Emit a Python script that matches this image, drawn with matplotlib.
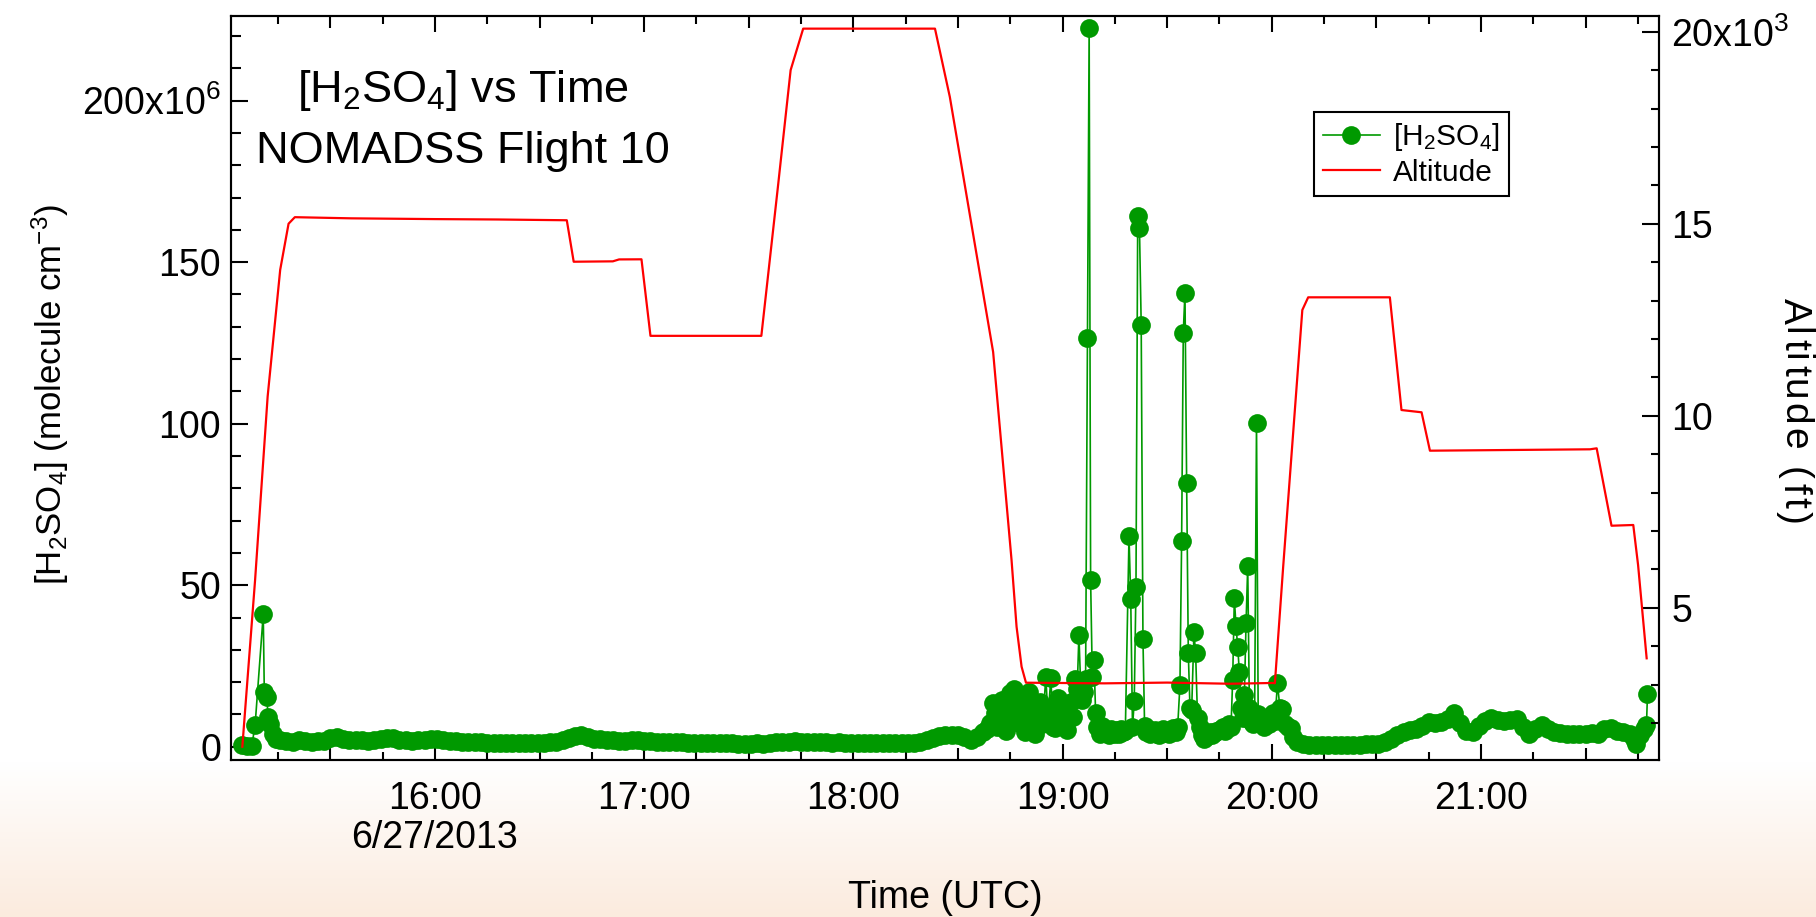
import numpy as np
import matplotlib
matplotlib.use('Agg')
import matplotlib.pyplot as plt
from matplotlib.ticker import MultipleLocator, FixedLocator
from matplotlib.font_manager import FontProperties, findfont, get_font
import matplotlib.transforms as mtransforms

plt.rcParams['font.family'] = ['Liberation Sans', 'DejaVu Sans']
plt.rcParams['mathtext.fontset'] = 'custom'
plt.rcParams['mathtext.rm'] = 'Liberation Sans'
plt.rcParams['mathtext.it'] = 'Liberation Sans:italic'
plt.rcParams['mathtext.bf'] = 'Liberation Sans:bold'
plt.rcParams['mathtext.default'] = 'regular'

# H2SO4 concentration, time in decimal hours UTC, concentration in 1e6 molecule cm^-3
time_h2so4 = [
    15.079, 15.100, 15.124, 15.140, 15.179, 15.184, 15.195, 15.203, 15.210, 15.225,
    15.240, 15.260,
    15.29, 15.32, 15.35, 15.38, 15.41, 15.44, 15.47, 15.50, 15.53, 15.56,
    15.59, 15.62, 15.65, 15.68, 15.71, 15.74, 15.77, 15.80, 15.83, 15.86,
    15.89, 15.92, 15.95, 15.98, 16.01, 16.04, 16.07, 16.10, 16.13, 16.16,
    16.19, 16.22, 16.25, 16.28, 16.31, 16.34, 16.37, 16.40, 16.43, 16.46,
    16.49, 16.52, 16.55, 16.58, 16.61, 16.64, 16.67, 16.70, 16.73, 16.76,
    16.79, 16.82, 16.85, 16.88, 16.91, 16.94, 16.97, 17.00, 17.03, 17.06,
    17.09, 17.12, 17.15, 17.18, 17.21, 17.24, 17.27, 17.30, 17.33, 17.36,
    17.39, 17.42, 17.45, 17.48, 17.51, 17.54, 17.57, 17.60, 17.63, 17.66,
    17.69, 17.72, 17.75, 17.78, 17.81, 17.84, 17.87, 17.90, 17.93, 17.96,
    17.99, 18.02, 18.05, 18.08, 18.11, 18.14, 18.17, 18.20, 18.23, 18.26,
    18.29, 18.32, 18.35, 18.38, 18.41, 18.44, 18.47, 18.50, 18.53, 18.56,
    18.59,
    18.62, 18.64, 18.655, 18.668, 18.676, 18.685, 18.70, 18.71, 18.72, 18.73,
    18.74, 18.75, 18.76, 18.77, 18.78, 18.79, 18.80, 18.81, 18.82, 18.83,
    18.84, 18.85, 18.86, 18.87, 18.88, 18.89, 18.90, 18.91, 18.92, 18.93,
    18.944, 18.955, 18.963, 18.97, 18.98, 18.99, 19.00, 19.01, 19.02, 19.03,
    19.04, 19.05, 19.059, 19.07, 19.078, 19.086, 19.094, 19.102, 19.110, 19.119,
    19.127, 19.134, 19.142, 19.150, 19.158, 19.166,
    19.18, 19.19, 19.20, 19.21, 19.22, 19.23, 19.24, 19.25, 19.26, 19.27,
    19.28, 19.29, 19.30, 19.3175, 19.3258, 19.3342, 19.3425, 19.3508, 19.3592, 19.3675,
    19.3758, 19.3842, 19.392, 19.40, 19.41, 19.42, 19.43, 19.44, 19.45, 19.46,
    19.47, 19.48, 19.49, 19.50, 19.51, 19.52, 19.53, 19.54, 19.55, 19.561,
    19.569, 19.577, 19.585, 19.593, 19.601, 19.609, 19.617, 19.628, 19.636, 19.645,
    19.655, 19.665, 19.675, 19.685, 19.695, 19.705, 19.715, 19.725, 19.735, 19.745,
    19.755, 19.765, 19.775, 19.785, 19.795, 19.805, 19.813, 19.821, 19.829, 19.837,
    19.845, 19.853, 19.861, 19.869, 19.877, 19.885, 19.893, 19.901, 19.909, 19.918,
    19.927, 19.935, 19.945, 19.955, 19.965, 19.975, 19.985, 19.995, 20.005, 20.015,
    20.027, 20.039, 20.051, 20.065, 20.078, 20.091, 20.10,
    20.12, 20.15, 20.18, 20.21, 20.24, 20.27, 20.30, 20.33, 20.36, 20.39,
    20.42, 20.45, 20.48, 20.51, 20.54, 20.57, 20.60, 20.63, 20.66, 20.69,
    20.72, 20.75, 20.78, 20.81, 20.84, 20.87, 20.90, 20.93, 20.96, 20.99,
    21.02, 21.05, 21.08, 21.11, 21.14, 21.17, 21.20, 21.23, 21.26, 21.29,
    21.32, 21.35, 21.38, 21.41, 21.44, 21.47, 21.50, 21.53, 21.56, 21.59,
    21.62, 21.65, 21.68, 21.71, 21.73, 21.743, 21.76, 21.78, 21.791, 21.796,
]
conc_h2so4 = [
    0.5, 0.3, 0.2, 6.7, 41.0, 17.0, 15.5, 9.3, 7.0, 4.0,
    2.5, 2.0,
    1.8, 1.5, 2.0, 1.8, 1.6, 1.7, 1.9, 2.6, 3.0, 2.4,
    2.0, 2.2, 2.1, 1.9, 2.0, 2.3, 2.8, 2.6, 2.2, 2.0,
    1.9, 2.0, 2.1, 2.4, 2.3, 2.0, 1.8, 1.7, 1.6, 1.5,
    1.4, 1.4, 1.3, 1.2, 1.2, 1.3, 1.2, 1.2, 1.3, 1.2,
    1.3, 1.2, 1.4, 1.6, 2.2, 2.8, 3.2, 3.6, 3.0, 2.4,
    2.3, 2.1, 2.0, 1.8, 1.9, 2.1, 2.0, 1.8, 1.7, 1.6,
    1.5, 1.4, 1.5, 1.4, 1.3, 1.2, 1.2, 1.2, 1.3, 1.1,
    1.1, 1.1, 1.0, 1.0, 1.0, 1.1, 1.0, 1.2, 1.4, 1.6,
    1.5, 1.7, 1.6, 1.5, 1.4, 1.5, 1.4, 1.3, 1.4, 1.3,
    1.3, 1.2, 1.3, 1.2, 1.2, 1.1, 1.2, 1.1, 1.2, 1.1,
    1.2, 1.5, 2.0, 2.6, 3.2, 3.5, 3.7, 3.6, 3.0, 2.0,
    3.0,
    4.6, 5.5, 7.2, 13.5, 10.3, 6.0, 8.0, 14.5, 9.0, 5.0,
    12.0, 16.5, 9.5, 18.0, 12.0, 7.5, 15.5, 9.0, 4.5, 11.0,
    17.0, 8.0, 13.5, 4.0, 8.0, 14.0, 7.0, 12.0, 21.7, 9.0,
    21.2, 6.0, 5.7, 10.0, 15.0, 8.0, 12.0, 6.0, 5.2, 9.0,
    14.0, 9.3, 21.0, 18.0, 34.6, 19.8, 14.5, 17.0, 21.0, 126.6,
    222.4, 51.6, 21.7, 27.0, 10.3, 6.0,
    4.0, 6.5, 5.0, 4.5, 3.5, 5.5, 4.8, 3.8, 5.2, 4.0,
    5.5, 4.5, 5.0, 65.2, 45.7, 6.0, 14.1, 49.3, 164.3, 160.5,
    130.6, 33.3, 6.5, 4.5, 5.5, 3.8, 4.5, 5.2, 4.0, 3.5,
    4.8, 5.5, 4.2, 4.6, 3.9, 5.0, 5.8, 4.5, 6.0, 19.1,
    63.7, 128.2, 140.6, 81.7, 28.9, 12.0, 11.4, 35.4, 28.9, 9.0,
    6.0, 3.5, 2.5, 3.0, 3.8, 4.5, 3.5, 4.2, 5.0, 4.8,
    5.5, 6.0, 5.0, 6.5, 7.0, 6.0, 20.6, 45.9, 37.4, 31.0,
    23.2, 12.0, 9.0, 16.0, 38.2, 55.9, 12.0, 8.0, 7.0, 9.5,
    100.3, 10.0, 7.5, 8.5, 6.0, 9.0, 7.0, 8.0, 10.5, 8.0,
    19.6, 12.0, 11.6, 7.0, 6.0, 5.7, 3.0,
    1.5, 0.8, 0.5, 0.4, 0.4, 0.5, 0.5, 0.5, 0.5, 0.6,
    0.6, 0.7, 0.8, 1.0, 1.5, 2.5, 3.5, 4.5, 5.2, 5.5,
    6.5, 7.7, 7.5, 7.8, 8.5, 10.3, 7.5, 5.0, 4.5, 6.5,
    8.0, 8.8, 8.2, 8.0, 8.3, 8.6, 6.0, 4.1, 5.5, 6.7,
    5.5, 4.5, 4.2, 4.0, 3.9, 4.0, 3.8, 4.2, 4.0, 5.5,
    5.7, 5.0, 4.5, 4.0, 2.5, 1.0, 3.5, 5.5, 6.7, 16.2,
]

# aircraft altitude (ft), vertices of the flight track
time_alt = [
    15.079, 15.14, 15.20, 15.26, 15.30, 15.33, 15.6, 16.0, 16.3, 16.63,
    16.663, 16.85, 16.88, 16.987, 17.03, 17.56, 17.64, 17.70, 17.76, 18.39,
    18.461, 18.668, 18.756, 18.78, 18.804, 18.825, 19.2, 19.5, 19.8, 20.007,
    20.0148, 20.0545, 20.146, 20.174, 20.5645, 20.620, 20.716, 20.756, 21.521, 21.553,
    21.624, 21.728, 21.751, 21.792,
]
altitude_ft = [
    1380, 5722, 10500, 13800, 15000, 15170, 15140, 15120, 15110, 15090,
    14010, 14020, 14070, 14073, 12080, 12080, 16000, 19000, 20080, 20080,
    18302, 11659, 6242, 4505, 3464, 3047, 3030, 3050, 3020, 3040,
    3031, 6068, 12753, 13083, 13083, 10148, 10089, 9089, 9125, 9151,
    7135, 7154, 6112, 3682,
]

hour_ticks = [16, 17, 18, 19, 20, 21]
hour_labels = ['16:00', '17:00', '18:00', '19:00', '20:00', '21:00']
conc_ticks = [0, 50, 100, 150, 200]
conc_labels = ['0', '50', '100', '150', '200x10$^{6}$']
alt_ticks = [5000, 10000, 15000, 20000]
alt_labels = ['5', '10', '15', '20x10$^{3}$']

GREEN = '#009900'
RED = '#ff0000'
W, H = 1816, 917
TICK_FS = 27


def spaced_vertical_label(fig, text, x_px, top_px, length_px, size):
    """Top-to-bottom label with its letters spread over length_px."""
    prop = FontProperties(family='Liberation Sans', size=size)
    font = get_font(findfont(prop))
    font.set_size(size, fig.dpi)
    adv = [font.load_char(ord(c)).linearHoriAdvance / 65536 for c in text]
    gap = (length_px - sum(adv)) / (len(text) - 1)
    y = top_px
    for c, a in zip(text, adv):
        fig.text(x_px / W, 1 - y / H, c, rotation=270, rotation_mode='anchor',
                 ha='left', va='baseline', fontproperties=prop)
        y += a + gap


fig = plt.figure(figsize=(W / 100, H / 100), dpi=100)

# pale peach band fading in at the bottom of the page
bg = fig.add_axes([0, 0, 1, 155 / H], zorder=-10)
shade = np.linspace(0, 1, 256)[:, None, None]
top_rgb = np.array([1.0, 1.0, 1.0])
bot_rgb = np.array([251, 235, 222]) / 255
bg.imshow(top_rgb + (bot_rgb - top_rgb) * shade, aspect='auto',
          extent=[0, 1, 0, 1], interpolation='bilinear')
bg.axis('off')

ax = fig.add_axes([230.7 / W, 1 - 760 / H, (1659 - 230.7) / W, (760 - 15.7) / H])
ax2 = ax.twinx()

line_c, = ax.plot(time_h2so4, conc_h2so4, '-o', color=GREEN, lw=1.2, ms=13.5,
                  mew=0, label='[H$_2$SO$_4$]')
line_a, = ax2.plot(time_alt, altitude_ft, color=RED, lw=1.6, label='Altitude')

ax.set_xlim(15.0234, 21.851)
ax.set_ylim(-4.1, 226.3)
ax2.set_ylim(1034, 20417)

ax.set_xticks(hour_ticks)
ax.set_xticklabels(hour_labels)
ax.xaxis.set_minor_locator(FixedLocator(np.arange(15.25, 22, 0.5)))
ax.set_yticks(conc_ticks)
ax.set_yticklabels(conc_labels)
ax.yaxis.set_minor_locator(MultipleLocator(10))
ax2.set_yticks(alt_ticks)
ax2.set_yticklabels(alt_labels)
ax2.yaxis.set_minor_locator(MultipleLocator(1000))

ax.tick_params(axis='x', which='both', direction='in', top=True, bottom=True,
               width=1.5, labelsize=TICK_FS, pad=15)
ax.tick_params(axis='x', which='major', length=11.5)
ax.tick_params(axis='x', which='minor', length=6)
ax.tick_params(axis='y', which='both', direction='in', width=1.5,
               labelsize=TICK_FS, pad=7)
ax.tick_params(axis='y', which='major', length=12)
ax.tick_params(axis='y', which='minor', length=7.5)
ax2.tick_params(axis='y', which='both', direction='in', width=1.5,
                labelsize=TICK_FS, pad=9)
ax2.tick_params(axis='y', which='major', length=12)
ax2.tick_params(axis='y', which='minor', length=6)

# half-hour ticks are a bit longer than the quarter-hour ones
for side in ('bottom', 'top'):
    sec = ax.secondary_xaxis(side)
    sec.set_xticks(np.arange(15.5, 22, 1.0))
    sec.tick_params(direction='in', length=8.6, width=1.5,
                    labelbottom=False, labeltop=False)
    sec.spines[side].set_visible(False)

for a in (ax, ax2):
    for sp in a.spines.values():
        sp.set_linewidth(1.5)

date_tr = mtransforms.blended_transform_factory(ax.transData, fig.transFigure)
ax.text(16, 1 - 838 / H, '6/27/2013', transform=date_tr, ha='center',
        va='center', fontsize=TICK_FS)

fig.text(945 / W, 1 - 898 / H, 'Time (UTC)', ha='center', va='center', fontsize=27)
fig.text(50 / W, 1 - 394 / H, '[H$_2$SO$_4$] (molecule cm$^{-3}$)', rotation=90,
         ha='center', va='center', fontsize=25)
spaced_vertical_label(fig, 'Altitude (ft)', 1784, 298, 226, 28)

fig.text(463 / W, 1 - 102 / H, '[H$_2$SO$_4$] vs Time', ha='center',
         va='baseline', fontsize=32.5)
fig.text(463 / W, 1 - 163 / H, 'NOMADSS Flight 10', ha='center',
         va='baseline', fontsize=32.5)

leg = ax2.legend(handles=[line_c, line_a], loc='upper left',
                 bbox_to_anchor=(1314 / W, 1 - 112 / H),
                 bbox_transform=fig.transFigure, fontsize=21.5,
                 frameon=True, fancybox=False, borderaxespad=0,
                 borderpad=0.3, handlelength=1.9, handletextpad=0.45,
                 labelspacing=0.2)
leg.get_frame().set_edgecolor('black')
leg.get_frame().set_linewidth(1.5)
leg.get_frame().set_alpha(1)

fig.savefig('out.png', dpi=100)
